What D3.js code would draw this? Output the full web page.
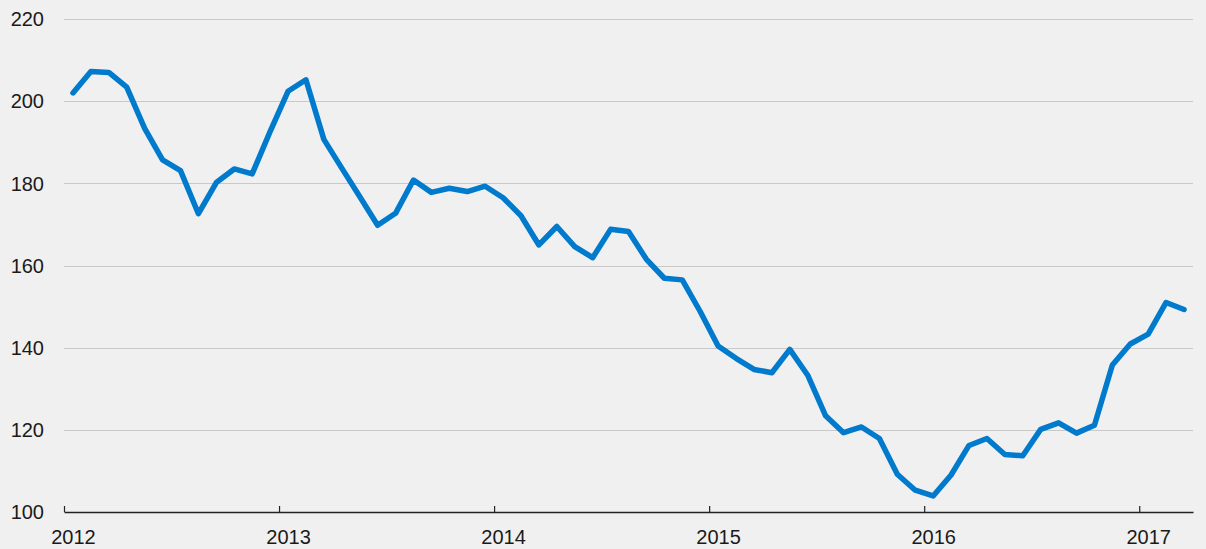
<!DOCTYPE html>
<html>
<head>
<meta charset="utf-8">
<script src="https://cdn.jsdelivr.net/npm/d3@7"></script>
<style>
  html, body { margin: 0; padding: 0; background: #f0f0f0; }
  svg { display: block; }
</style>
</head>
<body>
<div id="chart"></div>
<script>
// Monthly values, Jan 2012 - Mar 2017
var startMonth = "2012-01";
var values = [
  202.0, 207.2, 207.0, 203.4, 193.4, 185.7, 183.1, 172.6, 180.2, 183.5, 182.3, 192.6,
  202.4, 205.2, 190.7, 183.7, 176.8, 169.8, 172.7, 180.8, 177.8, 178.8, 178.0, 179.3,
  176.5, 172.1, 165.0, 169.5, 164.6, 161.9, 168.8, 168.3, 161.5, 156.9, 156.5, 148.8,
  140.4, 137.4, 134.7, 133.9, 139.6, 133.3, 123.4, 119.3, 120.7, 117.9, 109.2, 105.3,
  103.9, 109.0, 116.2, 117.9, 114.0, 113.7, 120.1, 121.7, 119.2, 121.1, 135.8, 140.9,
  143.3, 151.0, 149.3
];
var yearTicks = [2012, 2013, 2014, 2015, 2016, 2017];
var yTicks = [100, 120, 140, 160, 180, 200, 220];

var width = 1206, height = 549;
var margin = { top: 19, right: 13, bottom: 37, left: 64 };

var svg = d3.select("#chart").append("svg")
  .attr("width", width).attr("height", height)
  .style("font-family", "'Liberation Sans', Arial, sans-serif");

svg.append("rect").attr("width", width).attr("height", height).attr("fill", "#f0f0f0");

// month index scale, each month one slot wide
var x = d3.scaleLinear()
  .domain([0, values.length])
  .range([margin.left, width - margin.right]);
var y = d3.scaleLinear()
  .domain([100, 220])
  .range([height - margin.bottom, margin.top]);

var startYear = +startMonth.slice(0, 4);
function yearIndex(yr) { return (yr - startYear) * 12; }

// gridlines
svg.append("g")
  .selectAll("line")
  .data(yTicks.filter(function(d) { return d > 100; }))
  .join("line")
  .attr("x1", x(0)).attr("x2", x(values.length))
  .attr("y1", function(d) { return Math.round(y(d)) + 0.5; })
  .attr("y2", function(d) { return Math.round(y(d)) + 0.5; })
  .attr("stroke", "#c9c9c9").attr("stroke-width", 1);

// y labels
svg.append("g")
  .selectAll("text")
  .data(yTicks)
  .join("text")
  .attr("x", 44)
  .attr("y", function(d) { return y(d); })
  .attr("dy", "0.36em")
  .attr("text-anchor", "end")
  .attr("font-size", 20)
  .attr("fill", "#1a1a1a")
  .text(function(d) { return d; });

// x axis
var xAxis = d3.axisBottom(x)
  .tickValues(yearTicks.map(yearIndex))
  .tickSize(-6)
  .tickSizeOuter(0)
  .tickFormat(function(d) { return startYear + d / 12; });

var gx = svg.append("g")
  .attr("transform", "translate(0," + (height - margin.bottom) + ")")
  .call(xAxis);
gx.select(".domain").attr("stroke", "#222").attr("stroke-width", 1.5);
gx.selectAll(".tick line").attr("stroke", "#222").attr("stroke-width", 1.2);
gx.selectAll(".tick text")
  .attr("x", x(0.5) - x(0))
  .attr("y", 18)
  .attr("font-size", 20)
  .attr("font-family", "'Liberation Sans', Arial, sans-serif")
  .attr("fill", "#1a1a1a");

// the series line
var line = d3.line()
  .x(function(d, i) { return x(i + 0.5); })
  .y(function(d) { return y(d); });

svg.append("path")
  .datum(values)
  .attr("fill", "none")
  .attr("stroke", "#007acc")
  .attr("stroke-width", 5.5)
  .attr("stroke-linejoin", "round")
  .attr("stroke-linecap", "round")
  .attr("d", line);
</script>
</body>
</html>
